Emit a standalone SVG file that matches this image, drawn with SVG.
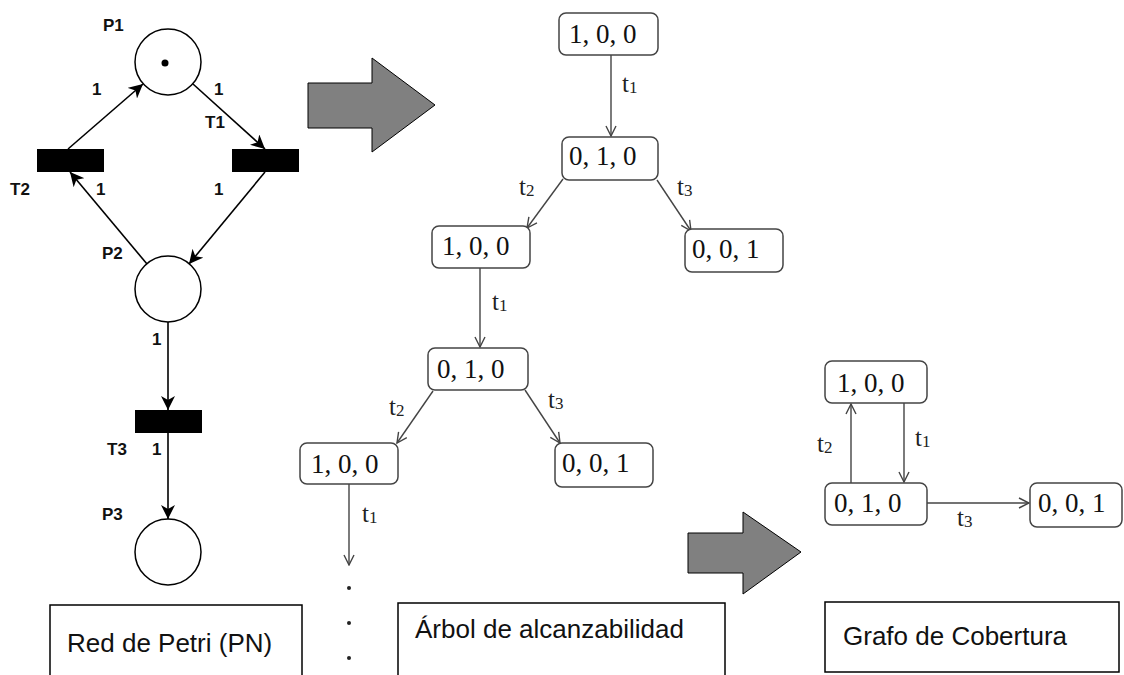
<svg xmlns="http://www.w3.org/2000/svg" width="1124" height="675" viewBox="0 0 1124 675">
  <style>
    .place { fill: #fff; stroke: #000; stroke-width: 1.5; }
    .trans { fill: #000; }
    .pn-arc { fill: none; stroke: #000; stroke-width: 1.6; marker-end: url(#barb); }
    .pn-lbl { font-family: "Liberation Sans", Arial, sans-serif; font-size: 17px; font-weight: bold; fill: #111; }
    .state { fill: #fff; stroke: #444; stroke-width: 1.5; }
    .state-txt { font-family: "Liberation Serif", "Times New Roman", serif; font-size: 27px; fill: #111; }
    .edge { fill: none; stroke: #444; stroke-width: 1.4; marker-end: url(#open); }
    .tl { font-family: "Liberation Serif", "Times New Roman", serif; font-size: 25px; fill: #222; }
    .tl tspan { font-size: 17px; }
    .big-arrow { fill: #808080; stroke: #000; stroke-width: 1; }
    .caption { fill: #fff; stroke: #000; stroke-width: 1.5; }
    .caption-txt { font-family: "Liberation Sans", Arial, sans-serif; font-size: 26px; fill: #111; }
    .dot { fill: #222; }
  </style>
  <defs>
    <marker id="barb" viewBox="0 0 14 14" refX="14" refY="7" markerWidth="14" markerHeight="14" markerUnits="userSpaceOnUse" orient="auto">
      <path d="M0,0 L14,7 L0,14 L4,7 z" fill="#000"/>
    </marker>
    <marker id="open" viewBox="0 0 12 12" refX="11" refY="6" markerWidth="12" markerHeight="12" markerUnits="userSpaceOnUse" orient="auto">
      <path d="M1,1 L11,6 L1,11" fill="none" stroke="#444" stroke-width="1.4"/>
    </marker>
  </defs>

  <!-- Petri net: places and transitions -->
  <g id="P1">
    <circle class="place" cx="168" cy="62" r="33"/>
    <circle cx="165" cy="63" r="3.5" fill="#000"/>
    <text class="pn-lbl" x="103" y="31">P1</text>
  </g>
  <g id="P2">
    <circle class="place" cx="168" cy="289" r="33"/>
    <text class="pn-lbl" x="102" y="259">P2</text>
  </g>
  <g id="P3">
    <circle class="place" cx="168" cy="552" r="33"/>
    <text class="pn-lbl" x="102" y="520">P3</text>
  </g>
  <g id="T1">
    <rect class="trans" x="232" y="149" width="67" height="23"/>
    <text class="pn-lbl" x="205" y="128">T1</text>
  </g>
  <g id="T2">
    <rect class="trans" x="37" y="149" width="67" height="23"/>
    <text class="pn-lbl" x="10" y="195">T2</text>
  </g>
  <g id="T3">
    <rect class="trans" x="135" y="410" width="67" height="23"/>
    <text class="pn-lbl" x="107" y="455">T3</text>
  </g>

  <!-- Petri net arcs with weights -->
  <g id="pn-arcs">
    <line class="pn-arc" x1="68" y1="149" x2="143" y2="84"/>
    <line class="pn-arc" x1="193" y1="84" x2="265" y2="149"/>
    <line class="pn-arc" x1="265" y1="172" x2="189" y2="264"/>
    <line class="pn-arc" x1="147" y1="264" x2="70" y2="172"/>
    <line class="pn-arc" x1="168" y1="322" x2="168" y2="410"/>
    <line class="pn-arc" x1="168" y1="433" x2="168" y2="519"/>
    <text class="pn-lbl" x="92" y="95">1</text>
    <text class="pn-lbl" x="214" y="95">1</text>
    <text class="pn-lbl" x="96" y="195">1</text>
    <text class="pn-lbl" x="214" y="195">1</text>
    <text class="pn-lbl" x="152" y="345">1</text>
    <text class="pn-lbl" x="152" y="455">1</text>
  </g>

  <!-- Transformation arrows -->
  <polygon class="big-arrow" points="308,83 372,83 372,58 435,105 372,152 372,128 308,128"/>
  <polygon class="big-arrow" points="688,533 743,533 743,512 801,552 743,594 743,573 688,573"/>

  <!-- Reachability tree -->
  <g id="tree-edges">
    <line class="edge" x1="611" y1="55" x2="611" y2="136"/>
    <line class="edge" x1="563" y1="179" x2="527" y2="228"/>
    <line class="edge" x1="657" y1="180" x2="691" y2="231"/>
    <line class="edge" x1="480" y1="268" x2="480" y2="347"/>
    <line class="edge" x1="433" y1="391" x2="397" y2="443"/>
    <line class="edge" x1="525" y1="390" x2="560" y2="443"/>
    <line class="edge" x1="349" y1="484" x2="349" y2="565"/>
    <text class="tl" x="622" y="92">t<tspan dy="1">1</tspan></text>
    <text class="tl" x="519" y="195">t<tspan dy="1">2</tspan></text>
    <text class="tl" x="677" y="195">t<tspan dy="1">3</tspan></text>
    <text class="tl" x="492" y="310">t<tspan dy="1">1</tspan></text>
    <text class="tl" x="389" y="415">t<tspan dy="1">2</tspan></text>
    <text class="tl" x="548" y="408">t<tspan dy="1">3</tspan></text>
    <text class="tl" x="362" y="522">t<tspan dy="1">1</tspan></text>
    <circle class="dot" cx="349" cy="588" r="2"/>
    <circle class="dot" cx="349" cy="623" r="2"/>
    <circle class="dot" cx="349" cy="658" r="2"/>
  </g>
  <g id="tree-n0">
    <rect class="state" x="559" y="13" width="99" height="42" rx="7"/>
    <text class="state-txt" x="569" y="43">1, 0, 0</text>
  </g>
  <g id="tree-n1">
    <rect class="state" x="562" y="137" width="96" height="43" rx="7"/>
    <text class="state-txt" x="569" y="165">0, 1, 0</text>
  </g>
  <g id="tree-n2">
    <rect class="state" x="432" y="226" width="98" height="42" rx="7"/>
    <text class="state-txt" x="442" y="255">1, 0, 0</text>
  </g>
  <g id="tree-n3">
    <rect class="state" x="685" y="229" width="98" height="43" rx="7"/>
    <text class="state-txt" x="692" y="258">0, 0, 1</text>
  </g>
  <g id="tree-n4">
    <rect class="state" x="428" y="348" width="100" height="42" rx="7"/>
    <text class="state-txt" x="437" y="378">0, 1, 0</text>
  </g>
  <g id="tree-n5">
    <rect class="state" x="300" y="443" width="98" height="41" rx="7"/>
    <text class="state-txt" x="311" y="473">1, 0, 0</text>
  </g>
  <g id="tree-n6">
    <rect class="state" x="555" y="443" width="98" height="44" rx="7"/>
    <text class="state-txt" x="562" y="472">0, 0, 1</text>
  </g>

  <!-- Coverability graph -->
  <g id="graph-edges">
    <line class="edge" x1="904" y1="403" x2="904" y2="482"/>
    <line class="edge" x1="851" y1="483" x2="851" y2="404"/>
    <line class="edge" x1="927" y1="503" x2="1029" y2="503"/>
    <text class="tl" x="915" y="446">t<tspan dy="1">1</tspan></text>
    <text class="tl" x="817" y="452">t<tspan dy="1">2</tspan></text>
    <text class="tl" x="957" y="526">t<tspan dy="1">3</tspan></text>
  </g>
  <g id="graph-n0">
    <rect class="state" x="825" y="361" width="102" height="42" rx="7"/>
    <text class="state-txt" x="837" y="392">1, 0, 0</text>
  </g>
  <g id="graph-n1">
    <rect class="state" x="825" y="483" width="102" height="42" rx="7"/>
    <text class="state-txt" x="834" y="512">0, 1, 0</text>
  </g>
  <g id="graph-n2">
    <rect class="state" x="1030" y="483" width="92" height="44" rx="7"/>
    <text class="state-txt" x="1038" y="512">0, 0, 1</text>
  </g>

  <!-- Captions -->
  <g id="cap-pn">
    <rect class="caption" x="50" y="605" width="252" height="80"/>
    <text class="caption-txt" x="67" y="652">Red de Petri (PN)</text>
  </g>
  <g id="cap-tree">
    <rect class="caption" x="398" y="603" width="327" height="82"/>
    <text class="caption-txt" x="415" y="638">Árbol de alcanzabilidad</text>
  </g>
  <g id="cap-graph">
    <rect class="caption" x="825" y="602" width="294" height="70"/>
    <text class="caption-txt" x="843" y="645">Grafo de Cobertura</text>
  </g>
</svg>
